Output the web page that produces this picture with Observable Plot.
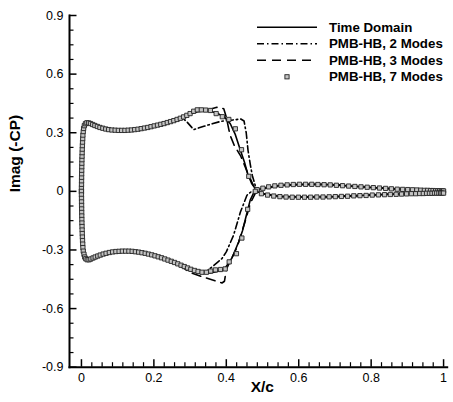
<!DOCTYPE html>
<html><head><meta charset="utf-8">
<script src="https://cdn.jsdelivr.net/npm/d3@7"></script>
<script src="https://cdn.jsdelivr.net/npm/@observablehq/plot@0.6"></script>
<style>body{margin:0;background:#fff;} #chart{width:453px;height:402px;}</style>
</head><body><div id="chart"></div>
<script>
// ---- tick values & labels ----
const xMajor = [0, 0.2, 0.4, 0.6, 0.8, 1];
const xLabels = ["0", "0.2", "0.4", "0.6", "0.8", "1"];
const yMajor = [-0.9, -0.6, -0.3, 0, 0.3, 0.6, 0.9];
const yLabels = ["-0.9", "-0.6", "-0.3", "0", "0.3", "0.6", "0.9"];
const xMinor = [0.0286,0.0571,0.0857,0.1143,0.1429,0.1714,0.2286,0.2571,0.2857,0.3143,0.3429,0.3714,0.4286,0.4571,0.4857,0.5143,0.5429,0.5714,0.6286,0.6571,0.6857,0.7143,0.7429,0.7714,0.8286,0.8571,0.8857,0.9143,0.9429,0.9714];
const yMinor = [-0.825,-0.75,-0.675,-0.525,-0.45,-0.375,-0.225,-0.15,-0.075,0.075,0.15,0.225,0.375,0.45,0.525,0.675,0.75,0.825];
const legendLabels = ["Time Domain", "PMB-HB, 2 Modes", "PMB-HB, 3 Modes", "PMB-HB, 7 Modes"];

// ---- Time Domain (solid) ----
const timeDomainUpper = [[0,0],[0.001,0.1],[0.002,0.2],[0.005,0.3],[0.009,0.338],[0.016,0.351],[0.03,0.342],[0.06,0.322],[0.1,0.312],[0.15,0.316],[0.2,0.334],[0.25,0.359],[0.28,0.378],[0.30,0.396],[0.32,0.408],[0.34,0.412],[0.356,0.41],[0.375,0.40],[0.395,0.38],[0.411,0.346],[0.425,0.29],[0.439,0.21],[0.45,0.15],[0.459,0.09],[0.47,0.04],[0.48,0.014],[0.49,0.008],[0.5,0.014],[0.55,0.031],[0.6,0.035],[0.65,0.036],[0.7,0.033],[0.75,0.026],[0.8,0.02],[0.85,0.014],[0.9,0.009],[0.95,0.005],[1,0.002]];
const timeDomainLower = [[0,0],[0.001,-0.1],[0.002,-0.2],[0.005,-0.3],[0.01,-0.338],[0.019,-0.35],[0.03,-0.343],[0.06,-0.321],[0.1,-0.307],[0.12,-0.306],[0.15,-0.31],[0.2,-0.33],[0.25,-0.361],[0.3,-0.398],[0.33,-0.414],[0.356,-0.418],[0.375,-0.41],[0.393,-0.402],[0.405,-0.37],[0.416,-0.34],[0.434,-0.259],[0.445,-0.2],[0.453,-0.14],[0.466,-0.045],[0.475,-0.01],[0.485,0.0],[0.5,-0.012],[0.55,-0.026],[0.6,-0.029],[0.65,-0.029],[0.7,-0.027],[0.75,-0.023],[0.8,-0.019],[0.85,-0.015],[0.9,-0.012],[0.95,-0.01],[1,-0.009]];

// ---- PMB-HB, 2 Modes (dash-dot) ----
const modes2Upper = [[0,0],[0.001,0.1],[0.002,0.2],[0.005,0.3],[0.009,0.338],[0.016,0.351],[0.03,0.342],[0.06,0.322],[0.1,0.312],[0.15,0.316],[0.2,0.334],[0.25,0.359],[0.28,0.374],[0.29,0.358],[0.31,0.316],[0.338,0.333],[0.384,0.358],[0.44,0.37],[0.449,0.36],[0.455,0.30],[0.46,0.21],[0.466,0.14],[0.472,0.08],[0.48,0.03],[0.49,0.008],[0.5,0.014],[0.55,0.031],[0.6,0.035],[0.65,0.036],[0.7,0.033],[0.75,0.026],[0.8,0.02],[0.85,0.014],[0.9,0.009],[0.95,0.005],[1,0.002]];
const modes2Lower = [[0,0],[0.001,-0.1],[0.002,-0.2],[0.005,-0.3],[0.01,-0.338],[0.019,-0.35],[0.03,-0.343],[0.06,-0.321],[0.1,-0.307],[0.12,-0.306],[0.15,-0.31],[0.2,-0.33],[0.25,-0.361],[0.3,-0.405],[0.32,-0.415],[0.345,-0.41],[0.365,-0.38],[0.388,-0.344],[0.40,-0.31],[0.42,-0.225],[0.439,-0.106],[0.457,-0.02],[0.47,0.0],[0.485,0.0],[0.5,-0.012],[0.55,-0.026],[0.6,-0.029],[0.65,-0.029],[0.7,-0.027],[0.75,-0.023],[0.8,-0.019],[0.85,-0.015],[0.9,-0.012],[0.95,-0.01],[1,-0.009]];

// ---- PMB-HB, 3 Modes (dashed) ----
const modes3Upper = [[0,0],[0.001,0.1],[0.002,0.2],[0.005,0.3],[0.009,0.338],[0.016,0.351],[0.03,0.342],[0.06,0.322],[0.1,0.312],[0.15,0.316],[0.2,0.334],[0.25,0.359],[0.28,0.378],[0.30,0.396],[0.32,0.41],[0.35,0.418],[0.374,0.43],[0.393,0.423],[0.400,0.38],[0.41,0.29],[0.422,0.235],[0.44,0.18],[0.46,0.09],[0.475,0.03],[0.488,0.008],[0.5,0.014],[0.55,0.031],[0.6,0.035],[0.65,0.036],[0.7,0.033],[0.75,0.026],[0.8,0.02],[0.85,0.014],[0.9,0.009],[0.95,0.005],[1,0.002]];
const modes3Lower = [[0,0],[0.001,-0.1],[0.002,-0.2],[0.005,-0.3],[0.01,-0.338],[0.019,-0.35],[0.03,-0.343],[0.06,-0.321],[0.1,-0.307],[0.12,-0.306],[0.15,-0.31],[0.2,-0.33],[0.25,-0.361],[0.28,-0.39],[0.30,-0.415],[0.33,-0.435],[0.36,-0.452],[0.388,-0.469],[0.395,-0.46],[0.40,-0.40],[0.41,-0.36],[0.43,-0.285],[0.453,-0.148],[0.466,-0.063],[0.48,-0.01],[0.49,0.0],[0.5,-0.012],[0.55,-0.026],[0.6,-0.029],[0.65,-0.029],[0.7,-0.027],[0.75,-0.023],[0.8,-0.019],[0.85,-0.015],[0.9,-0.012],[0.95,-0.01],[1,-0.009]];

// ---- PMB-HB, 7 Modes (squares) ----
const modes7Upper = [[0.000,0.000],[0.000,0.018],[0.0002,0.036],[0.0003,0.054],[0.0004,0.072],[0.0005,0.090],[0.0007,0.108],[0.0009,0.126],[0.0011,0.144],[0.0013,0.162],[0.0016,0.180],[0.0019,0.198],[0.0022,0.216],[0.0026,0.234],[0.003,0.252],[0.0035,0.270],[0.004,0.288],[0.005,0.306],[0.006,0.322],[0.008,0.336],[0.011,0.346],[0.015,0.351],[0.020,0.350],[0.025,0.347],[0.031,0.342],[0.037,0.337],[0.044,0.332],[0.051,0.327],[0.059,0.323],[0.067,0.319],[0.075,0.316],[0.084,0.314],[0.093,0.313],[0.102,0.312],[0.111,0.312],[0.120,0.312],[0.129,0.313],[0.138,0.314],[0.147,0.316],[0.156,0.318],[0.165,0.321],[0.174,0.324],[0.183,0.327],[0.192,0.331],[0.201,0.335],[0.210,0.339],[0.219,0.343],[0.228,0.347],[0.237,0.352],[0.246,0.357],[0.255,0.362],[0.264,0.368],[0.273,0.374],[0.282,0.381],[0.291,0.389],[0.300,0.398],[0.310,0.410],[0.320,0.417],[0.331,0.417],[0.343,0.416],[0.356,0.414],[0.372,0.398],[0.389,0.382],[0.407,0.368],[0.425,0.320],[0.442,0.213],[0.462,0.077],[0.485,0.009],[0.501,0.016],[0.517,0.023],[0.534,0.028],[0.551,0.031],[0.568,0.033],[0.585,0.035],[0.602,0.036],[0.619,0.036],[0.636,0.036],[0.653,0.035],[0.670,0.034],[0.687,0.033],[0.704,0.031],[0.721,0.029],[0.738,0.027],[0.755,0.025],[0.772,0.023],[0.789,0.021],[0.806,0.019],[0.823,0.017],[0.840,0.015],[0.856,0.013],[0.872,0.011],[0.887,0.010],[0.901,0.009],[0.914,0.008],[0.926,0.007],[0.937,0.006],[0.947,0.005],[0.956,0.005],[0.964,0.004],[0.971,0.004],[0.978,0.003],[0.984,0.003],[0.989,0.003],[0.994,0.002],[0.998,0.002],[1.000,0.002]];
const modes7Lower = [[0.000,0.000],[0.000,-0.018],[0.0002,-0.036],[0.0003,-0.054],[0.0004,-0.072],[0.0005,-0.090],[0.0007,-0.108],[0.0009,-0.126],[0.0011,-0.144],[0.0013,-0.162],[0.0016,-0.180],[0.0019,-0.198],[0.0022,-0.216],[0.0026,-0.234],[0.003,-0.252],[0.0035,-0.270],[0.004,-0.288],[0.005,-0.306],[0.007,-0.322],[0.009,-0.336],[0.012,-0.345],[0.016,-0.350],[0.021,-0.350],[0.026,-0.346],[0.032,-0.341],[0.038,-0.336],[0.045,-0.331],[0.052,-0.326],[0.060,-0.321],[0.068,-0.317],[0.077,-0.313],[0.086,-0.310],[0.095,-0.308],[0.104,-0.307],[0.113,-0.306],[0.122,-0.306],[0.131,-0.306],[0.140,-0.307],[0.149,-0.309],[0.158,-0.311],[0.167,-0.314],[0.176,-0.317],[0.185,-0.321],[0.194,-0.325],[0.203,-0.330],[0.212,-0.335],[0.221,-0.340],[0.230,-0.346],[0.239,-0.352],[0.248,-0.358],[0.257,-0.364],[0.266,-0.371],[0.275,-0.378],[0.284,-0.385],[0.293,-0.392],[0.302,-0.399],[0.312,-0.405],[0.322,-0.410],[0.333,-0.414],[0.345,-0.414],[0.357,-0.408],[0.370,-0.402],[0.384,-0.400],[0.397,-0.397],[0.408,-0.361],[0.428,-0.319],[0.443,-0.239],[0.459,-0.092],[0.480,0.000],[0.497,-0.012],[0.514,-0.019],[0.531,-0.024],[0.548,-0.027],[0.565,-0.029],[0.582,-0.030],[0.599,-0.030],[0.616,-0.030],[0.633,-0.030],[0.650,-0.029],[0.667,-0.029],[0.684,-0.028],[0.701,-0.027],[0.718,-0.026],[0.735,-0.025],[0.752,-0.023],[0.769,-0.022],[0.786,-0.021],[0.803,-0.019],[0.820,-0.018],[0.837,-0.017],[0.853,-0.016],[0.869,-0.015],[0.884,-0.014],[0.898,-0.013],[0.911,-0.012],[0.923,-0.012],[0.934,-0.011],[0.944,-0.011],[0.953,-0.010],[0.961,-0.010],[0.968,-0.010],[0.975,-0.009],[0.981,-0.009],[0.987,-0.009],[0.992,-0.009],[0.996,-0.009],[1.000,-0.009]];

// ---- layout ----
const W = 453, H = 402, mL = 69, mR = 6.3, mT = 15, mB = 35.3;
const frameW = W - mL - mR, frameH = H - mT - mB;
const font = "'Liberation Sans', Arial, Helvetica, sans-serif";
const majorLen = 7.5, minorLen = 4.5;
const dashDot = "7,3,1.5,3", dashed = "9,6";
const lw = 1.6;

const rows = arr => arr.map(([x, y]) => ({x, y}));
const lineMark = (arr, dash) => Plot.line(rows(arr), {x: "x", y: "y", stroke: "#000", strokeWidth: lw, strokeDasharray: dash, strokeLinejoin: "round"});
const sqMark = arr => Plot.dot(rows(arr), {x: "x", y: "y", symbol: "square", r: 2.4, fill: "#c4c4c4", stroke: "#222", strokeWidth: 0.9});

const plot = Plot.plot({
  width: W, height: H, marginLeft: mL, marginRight: mR, marginTop: mT, marginBottom: mB,
  style: {fontFamily: font, background: "#fff", color: "#000"},
  x: {domain: [-0.033, 1.01]},
  y: {domain: [-0.9, 0.9]},
  marks: [
    Plot.ruleX(xMajor, {x: d => d, insetTop: frameH - majorLen, strokeWidth: 1.5}),
    Plot.ruleX(xMinor, {x: d => d, insetTop: frameH - minorLen, strokeWidth: 1.2}),
    Plot.ruleY(yMajor, {y: d => d, insetRight: frameW - majorLen, strokeWidth: 1.5}),
    Plot.ruleY(yMinor, {y: d => d, insetRight: frameW - minorLen, strokeWidth: 1.2}),
    Plot.frame({anchor: "left", strokeWidth: 2}),
    Plot.frame({anchor: "bottom", strokeWidth: 2}),
    Plot.axisX({ticks: xMajor, tickSize: 0, tickPadding: 6, fontSize: 12.5, tickFormat: d => xLabels[xMajor.indexOf(d)], label: null}),
    Plot.axisY({ticks: yMajor, tickSize: 0, tickPadding: 6, fontSize: 12.5, tickFormat: d => yLabels[yMajor.indexOf(d)], label: null}),
    Plot.text(["X/c"], {frameAnchor: "bottom", dx: 4, dy: 25, fontSize: 15.5, fontWeight: "bold"}),
    Plot.text(["Imag (-CP)"], {frameAnchor: "left", dx: -54, dy: 1, rotate: -90, fontSize: 15.5, fontWeight: "bold"}),
    lineMark(timeDomainUpper, null),
    lineMark(timeDomainLower, null),
    lineMark(modes2Upper, dashDot),
    lineMark(modes2Lower, dashDot),
    lineMark(modes3Upper, dashed),
    lineMark(modes3Lower, dashed),
    sqMark(modes7Upper),
    sqMark(modes7Lower)
  ]
});

// ---- legend (inside plot, top right) ----
const svg = d3.select(plot);
const lg = svg.append("g").attr("font-family", font).attr("font-size", 13.3).attr("font-weight", "bold").attr("text-anchor", "start");
const rowY = [27.3, 43.8, 60.3, 76.8];
const dashes = [null, dashDot, dashed, null];
legendLabels.forEach((lab, i) => {
  if (i < 3) {
    lg.append("line").attr("x1", 257).attr("x2", 317).attr("y1", rowY[i]).attr("y2", rowY[i])
      .attr("stroke", "#000").attr("stroke-width", lw).attr("stroke-dasharray", dashes[i]);
  } else {
    lg.append("rect").attr("x", 287 - 2.1).attr("y", rowY[i] - 2.1).attr("width", 4.2).attr("height", 4.2)
      .attr("fill", "#c4c4c4").attr("stroke", "#222").attr("stroke-width", 0.9);
  }
  lg.append("text").attr("x", 329).attr("y", rowY[i] + 4.6).attr("text-anchor", "start").attr("fill", "#000").text(lab);
});

document.getElementById("chart").appendChild(plot);
</script>
</body></html>
